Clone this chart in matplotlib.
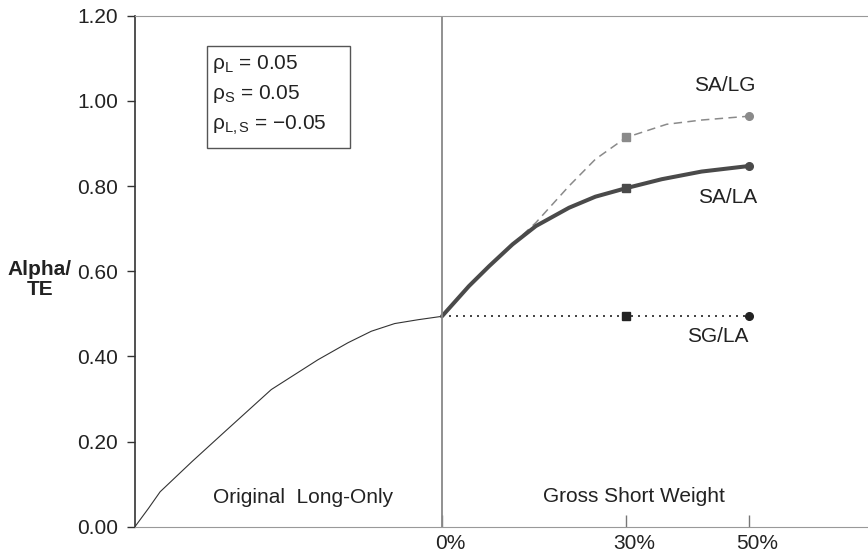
import matplotlib.pyplot as plt
from matplotlib.patches import Rectangle
from matplotlib.transforms import ScaledTranslation

plt.rcParams['font.family'] = ['Liberation Sans', 'DejaVu Sans']
plt.rcParams['mathtext.fontset'] = 'custom'
plt.rcParams['mathtext.rm'] = 'Liberation Sans'
plt.rcParams['mathtext.it'] = 'Liberation Sans:italic'

# original long-only portfolio (left half, x in pseudo % units)
long_x = [-50, -47.8, -45.9, -40.7, -35.3, -27.8, -20.2, -15.3, -11.5, -7.7, -3.9, 0]
long_y = [0.0, 0.043, 0.082, 0.153, 0.224, 0.322, 0.392, 0.432, 0.459, 0.477, 0.486, 0.494]

# SA/LA curve
sala_x = [0, 4.4, 7.7, 11.5, 15.3, 20.7, 25.0, 30, 35.8, 42.3, 50]
sala_y = [0.494, 0.565, 0.612, 0.663, 0.706, 0.749, 0.775, 0.795, 0.816, 0.834, 0.847]

# SA/LG curve (dashed after it leaves SA/LA)
salg_x = [11.5, 15.3, 20.7, 25.0, 30, 36.6, 42.3, 50]
salg_y = [0.663, 0.714, 0.800, 0.863, 0.914, 0.945, 0.955, 0.964]

# SG/LA line
sgla_x = [0, 30, 50]
sgla_y = [0.494, 0.494, 0.494]

mark_x = [30, 50]

fig = plt.figure(figsize=(8.68, 5.53), dpi=100)
ax = fig.add_axes([0.1555, 0.0476, 0.8445, 0.9240])

ax.plot(long_x, long_y, color='#333333', lw=0.8)
ax.plot(sgla_x, sgla_y, color='#222222', lw=1.2, ls=(0, (1.2, 3)))
ax.plot(salg_x, salg_y, color='#8a8a8a', lw=1.1, ls=(0, (5.5, 3.5)))
ax.plot(sala_x, sala_y, color='#4a4a4a', lw=2.9, solid_capstyle='round')

ax.plot(mark_x[0], salg_y[4], 's', color='#8a8a8a', ms=5.5)
ax.plot(mark_x[1], salg_y[-1], 'o', color='#8a8a8a', ms=5.5)
ax.plot(mark_x[0], sala_y[7], 's', color='#4a4a4a', ms=5.5)
ax.plot(mark_x[1], sala_y[-1], 'o', color='#4a4a4a', ms=5.5)
ax.plot(mark_x[0], sgla_y[1], 's', color='#222222', ms=5.5)
ax.plot(mark_x[1], sgla_y[2], 'o', color='#222222', ms=5.5)

ax.axvline(0, color='#888888', lw=1.3)

ax.set_xlim(-50, 69.4)
ax.set_ylim(0, 1.2)

ax.spines['right'].set_visible(False)
ax.spines['top'].set_color('#999999')
ax.spines['bottom'].set_color('#999999')
ax.spines['left'].set_color('#333333')
ax.spines['left'].set_linewidth(1.2)

ax.set_yticks([0, 0.2, 0.4, 0.6, 0.8, 1.0, 1.2])
ax.set_yticklabels(['0.00', '0.20', '0.40', '0.60', '0.80', '1.00', '1.20'])
ax.tick_params(axis='y', direction='out', length=6, width=1, color='#333333',
               labelsize=15, labelcolor='#222222', pad=6)
ax.set_xticks([0, 30, 50])
ax.set_xticklabels(['0%', '30%', '50%'])
ax.tick_params(axis='x', direction='in', length=9, width=1, color='#777777',
               labelsize=15, labelcolor='#222222', pad=5)
shift = ScaledTranslation(8 / 100, 0, fig.dpi_scale_trans)
for lab in ax.get_xticklabels():
    lab.set_transform(lab.get_transform() + shift)

ax.text(-22.7, 0.068, 'Original  Long-Only', fontsize=15, ha='center', va='center', color='#222222')
ax.text(31.3, 0.070, 'Gross Short Weight', fontsize=15, ha='center', va='center', color='#222222')
ax.text(46.1, 1.035, 'SA/LG', fontsize=15, ha='center', va='center', color='#222222')
ax.text(46.6, 0.773, 'SA/LA', fontsize=15, ha='center', va='center', color='#222222')
ax.text(45.0, 0.446, 'SG/LA', fontsize=15, ha='center', va='center', color='#222222')

# parameter box
ax.add_patch(Rectangle((-38.3, 0.890), 23.3, 0.238, fc='white', ec='#555555', lw=1, zorder=3))
box_lines = ['ρ$_{\\mathrm{L}}$ = 0.05',
             'ρ$_{\\mathrm{S}}$ = 0.05',
             'ρ$_{\\mathrm{L,S}}$ = \u22120.05']
box_y = [1.075, 1.004, 0.933]
for txt, yy in zip(box_lines, box_y):
    ax.text(-37.5, yy, txt, fontsize=15, ha='left', va='baseline', color='#222222', zorder=4)

fig.text(0.046, 0.495, 'Alpha/\nTE', fontsize=15, fontweight='bold', ha='center', va='center',
         color='#222222', linespacing=1.1)

fig.savefig('out.png', dpi=100)
